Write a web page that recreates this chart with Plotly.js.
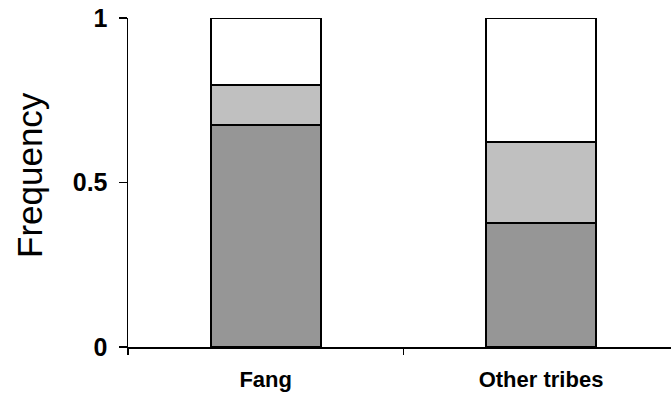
<!DOCTYPE html>
<html>
<head>
<meta charset="utf-8">
<script src="https://cdn.plot.ly/plotly-3.0.1.min.js"></script>
<style>html,body{margin:0;padding:0;background:#fff;}#chart{width:671px;height:401px;}</style>
</head>
<body>
<div id="chart"></div>
<script>
var categories = ["Fang", "Other tribes"];
var bottomSegment = [0.676, 0.378];
var middleSegment = [0.120, 0.246];
var topSegment = [0.204, 0.376];
var yTickVals = [0, 0.5, 1];
var yTickText = ["0", "0.5", "1"];
var yTitle = "Frequency";

function seg(vals, color) {
  return {
    type: "bar",
    x: categories,
    y: vals,
    width: 0.4,
    cliponaxis: false,
    marker: {color: color, line: {color: "#000", width: 1.8}},
    hoverinfo: "skip"
  };
}

var data = [
  seg(bottomSegment, "rgb(150,150,150)"),
  seg(middleSegment, "rgb(192,192,192)"),
  seg(topSegment, "#ffffff")
];

var layout = {
  width: 671, height: 401,
  margin: {l: 128, r: 0, t: 18, b: 54},
  barmode: "stack",
  showlegend: false,
  paper_bgcolor: "#fff", plot_bgcolor: "#fff",
  font: {family: "Liberation Sans, Arial, sans-serif", color: "#000"},
  xaxis: {
    type: "category",
    range: [-0.5, 1.472],
    tickson: "boundaries",
    ticks: "outside", ticklen: 6, tickwidth: 1.5, tickcolor: "#000",
    showline: true, linecolor: "#000", linewidth: 1.5,
    showgrid: false, zeroline: false,
    tickfont: {size: 22, color: "#000", weight: "bold"},
    ticklabelstandoff: 12
  },
  yaxis: {
    range: [0, 1],
    tickvals: yTickVals, ticktext: yTickText,
    ticks: "outside", ticklen: 8, tickwidth: 1.5, tickcolor: "#000",
    showline: true, linecolor: "#000", linewidth: 1.5,
    showgrid: false, zeroline: false,
    tickfont: {size: 25, color: "#000", weight: "bold"},
    ticklabelstandoff: 6
  },
  annotations: [{
    text: yTitle,
    xref: "paper", yref: "paper",
    x: (29 - 128) / 543, y: (347 - 175) / 329,
    xanchor: "center", yanchor: "middle",
    textangle: -90, showarrow: false,
    font: {size: 35, color: "#000"}
  }]
};

Plotly.newPlot("chart", data, layout, {displayModeBar: false, staticPlot: true});
</script>
</body>
</html>
